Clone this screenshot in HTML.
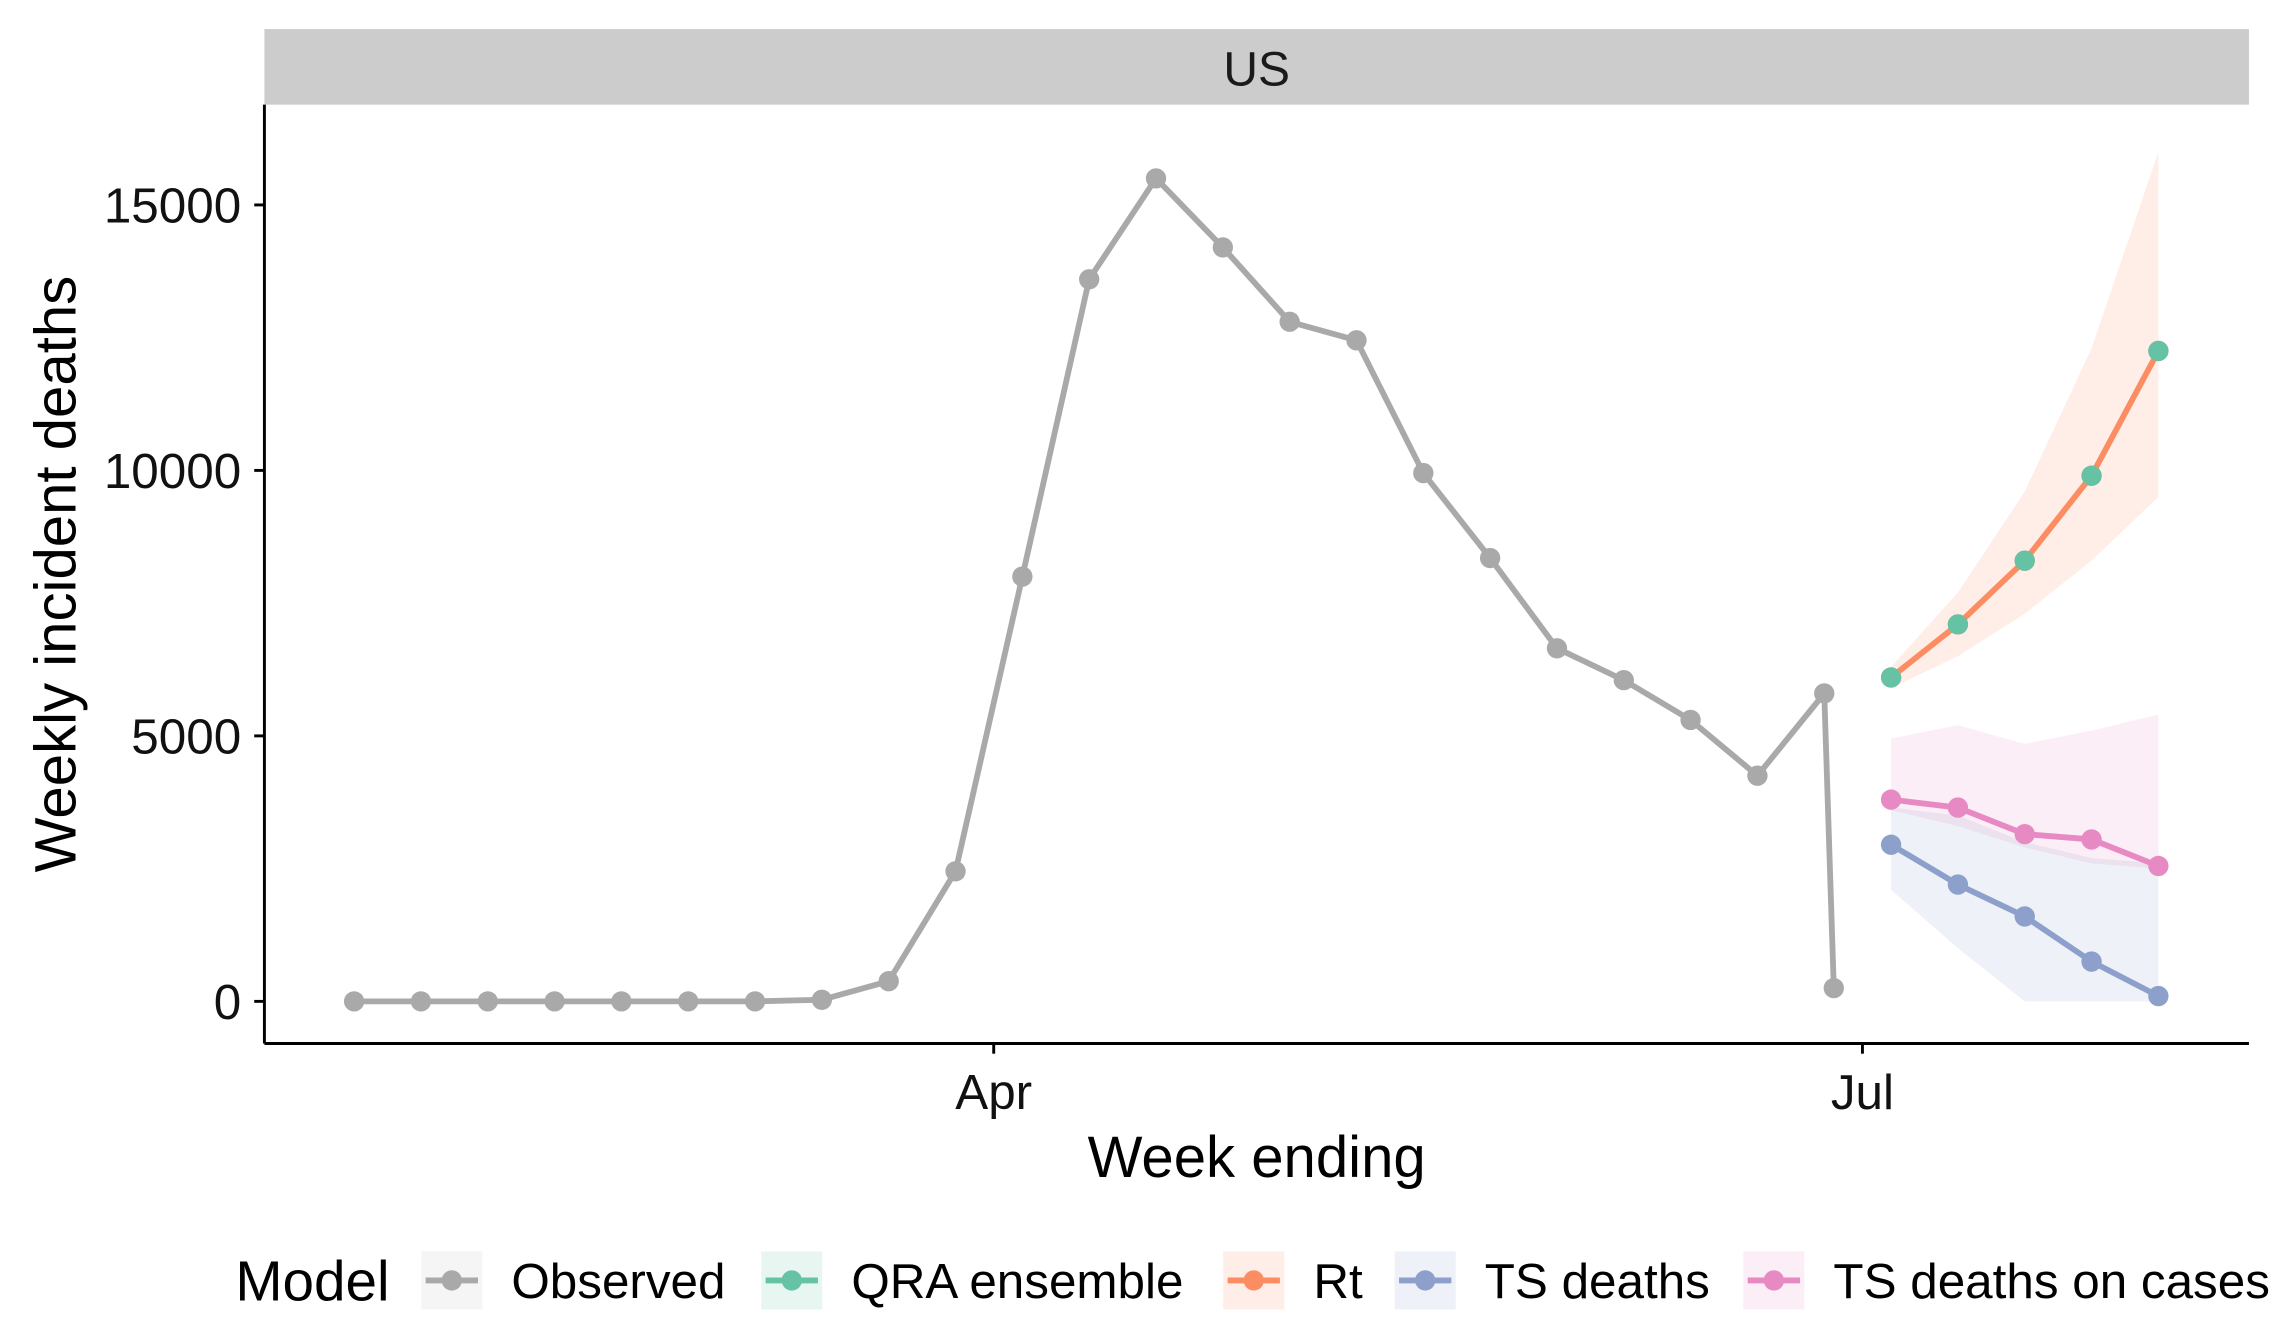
<!DOCTYPE html>
<html><head><meta charset="utf-8"><style>html,body{margin:0;padding:0;background:#fff}svg{display:block}text{font-family:"Liberation Sans",Arial,sans-serif}</style></head>
<body>
<svg id="chart" width="2278" height="1340" viewBox="0 0 1568 922" preserveAspectRatio="none" xmlns="http://www.w3.org/2000/svg">
<rect x="182" y="20" width="1366" height="52" fill="#cccccc"/>
<text x="865" y="59" font-size="33" text-anchor="middle" fill="#1a1a1a">US</text>
<g id="bands"></g><g id="lines"></g>
<line x1="182" y1="72" x2="182" y2="718" stroke="#000" stroke-width="2"/>
<line x1="182" y1="718" x2="1548" y2="718" stroke="#000" stroke-width="2"/>
<g id="axes"></g>
<text x="865" y="810" font-size="40" text-anchor="middle">Week ending</text>
<text transform="translate(52,395) rotate(-90)" font-size="40" text-anchor="middle">Weekly incident deaths</text>
<g id="legend"></g>
</svg>
<script>
const obsDays=[-67,-60,-53,-46,-39,-32,-25,-18,-11,-4,3,10,17,24,31,38,45,52,59,66,73,80,87,88];
const observed=[0,0,0,0,0,0,0,30,380,2450,8000,13600,15500,14200,12800,12450,9950,8350,6650,6050,5300,4250,5800,250];
const fcDays=[94,101,108,115,122];
const qraVals=[6100,7100,8300,9900,12250];
const rtVals=[6100,7100,8300,9900,12250];
const rtLow=[5900,6500,7300,8300,9500];
const rtHigh=[6300,7700,9600,12300,16000];
const tsVals=[2950,2200,1600,750,100];
const tsLow=[2100,1000,0,0,0];
const tsHigh=[3650,3500,3000,2700,2600];
const tscVals=[3800,3650,3150,3050,2550];
const tscLow=[3600,3300,2900,2600,2500];
const tscHigh=[4950,5200,4850,5100,5400];
const yTicks=[0,5000,10000,15000];
const xTickDays=[0,91];const xTickLabels=["Apr","Jul"];
const X=d=>684+d*6.571, Y=v=>689-v*0.036533;
const NS="http://www.w3.org/2000/svg";
function mk(t,a,p){const e=document.createElementNS(NS,t);for(const k in a)e.setAttribute(k,a[k]);p.appendChild(e);return e;}
const bands=document.getElementById('bands'),lines=document.getElementById('lines'),axes=document.getElementById('axes'),leg=document.getElementById('legend');
function band(lo,hi,col,name){const pts=fcDays.map((d,i)=>X(d)+','+Y(hi[i])).concat(fcDays.map((d,i)=>X(d)+','+Y(lo[i])).reverse());const p=mk('polygon',{points:pts.join(' '),fill:col,'fill-opacity':0.15},bands);

}
band(rtLow,rtHigh,'#FC8D62','rt-band');band(tsLow,tsHigh,'#8DA0CB','ts-deaths-band');band(tscLow,tscHigh,'#E78AC3','ts-cases-band');
function series(days,vals,col,name){const l=mk('polyline',{points:days.map((d,i)=>X(d)+','+Y(vals[i])).join(' '),fill:'none',stroke:col,'stroke-width':4},lines);


days.forEach((d,i)=>{const c=mk('circle',{cx:X(d),cy:Y(vals[i]),r:7,fill:col},lines);

});}
series(obsDays,observed,'#A9A9A9','observed');
series(fcDays,tsVals,'#8DA0CB','ts-deaths');
series(fcDays,tscVals,'#E78AC3','ts-deaths-on-cases');
series(fcDays,rtVals,'#FC8D62','rt');
fcDays.forEach((d,i)=>{const c=mk('circle',{cx:X(d),cy:Y(qraVals[i]),r:7,fill:'#66C2A5'},lines);

});
yTicks.forEach(v=>{const l=mk('line',{x1:175,x2:182,y1:Y(v),y2:Y(v),stroke:'#000','stroke-width':2},axes);


const t=mk('text',{x:166,y:Y(v)+12,'font-size':34,'text-anchor':'end',fill:'#111'},axes);t.textContent=v;

});
xTickDays.forEach((d,i)=>{const l=mk('line',{x1:X(d),x2:X(d),y1:718,y2:725,stroke:'#000','stroke-width':2},axes);


const t=mk('text',{x:X(d),y:763,'font-size':34,'text-anchor':'middle',fill:'#111'},axes);t.textContent=xTickLabels[i];

});
const lt=mk('text',{x:162,y:895,'font-size':39},leg);lt.textContent='Model';


const legNames=['Observed','QRA ensemble','Rt','TS deaths','TS deaths on cases'];
const legCols=['#A9A9A9','#66C2A5','#FC8D62','#8DA0CB','#E78AC3'];
const legX=[290,524,842,960,1200];
legNames.forEach((n,i)=>{const g=mk('g',{},leg);


const x=legX[i];mk('rect',{x:x,y:861,width:42,height:40,fill:legCols[i],'fill-opacity':i==0?0.12:0.15},g);
mk('line',{x1:x+3,x2:x+39,y1:881,y2:881,stroke:legCols[i],'stroke-width':4},g);
mk('circle',{cx:x+21,cy:881,r:7,fill:legCols[i]},g);
const t=mk('text',{x:x+62,y:893,'font-size':34},g);t.textContent=n;});
</script>
</body></html>
